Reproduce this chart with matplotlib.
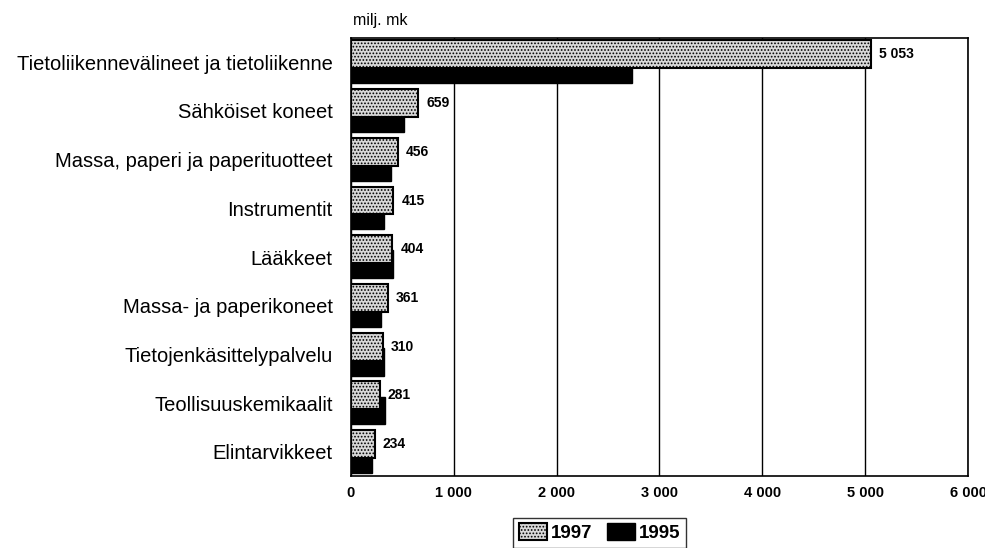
import matplotlib.pyplot as plt
import matplotlib as mpl
import numpy as np

plt.rcParams['font.family'] = ['Liberation Sans', 'DejaVu Sans']
mpl.rcParams['hatch.color'] = '#7a7a7a'
mpl.rcParams['hatch.linewidth'] = 0.8

categories = ['Tietoliikennevälineet ja tietoliikenne', 'Sähköiset koneet',
              'Massa, paperi ja paperituotteet', 'Instrumentit', 'Lääkkeet',
              'Massa- ja paperikoneet', 'Tietojenkäsittelypalvelu',
              'Teollisuuskemikaalit', 'Elintarvikkeet']
v1997 = [5053, 659, 456, 415, 404, 361, 310, 281, 234]
v1995 = [2730, 520, 390, 320, 415, 290, 320, 330, 205]
xticks = [0, 1000, 2000, 3000, 4000, 5000, 6000]

fig = plt.figure(figsize=(9.85, 5.48), dpi=100)
ax = fig.add_axes([0.356, 0.131, 0.627, 0.8])

y = np.arange(len(categories))
h = 0.57
b95 = ax.barh(y + 0.15, v1995, height=h, color='black', edgecolor='black', zorder=2)
b97 = ax.barh(y - 0.16, v1997, height=h, color='#d8d8d8', edgecolor='black',
              linewidth=1.5, hatch='.....', zorder=3)

for yi, v in zip(y, v1997):
    ax.text(v + 80, yi - 0.16, f'{v:,}'.replace(',', ' '), va='center', ha='left',
            fontsize=10, fontweight='bold', zorder=4)

ax.set_xlim(0, 6000)
ax.set_ylim(len(categories) - 0.5, -0.5)
ax.set_xticks(xticks)
ax.set_xticklabels([f'{t:,}'.replace(',', ' ') for t in xticks], fontsize=10.5, fontweight='bold')
ax.set_yticks(y)
ax.set_yticklabels(categories, fontsize=14.5)
ax.tick_params(axis='both', length=0)
ax.tick_params(axis='y', pad=13)
ax.tick_params(axis='x', pad=7)
ax.grid(axis='x', color='black', linewidth=1)
ax.set_axisbelow(True)
for s in ax.spines.values():
    s.set_linewidth(1.2)

fig.text(0.358, 0.962, 'milj. mk', fontsize=11.5, ha='left', va='center')

fig.legend([b97, b95], ['1997', '1995'], loc='center', bbox_to_anchor=(0.609, 0.028),
           ncol=2, frameon=True, fancybox=False, edgecolor='black',
           handlelength=1.5, handleheight=1.0, handletextpad=0.2, columnspacing=0.8,
           borderpad=0.3, prop={'weight': 'bold', 'size': 13.5})

fig.savefig('out.png', dpi=100)
